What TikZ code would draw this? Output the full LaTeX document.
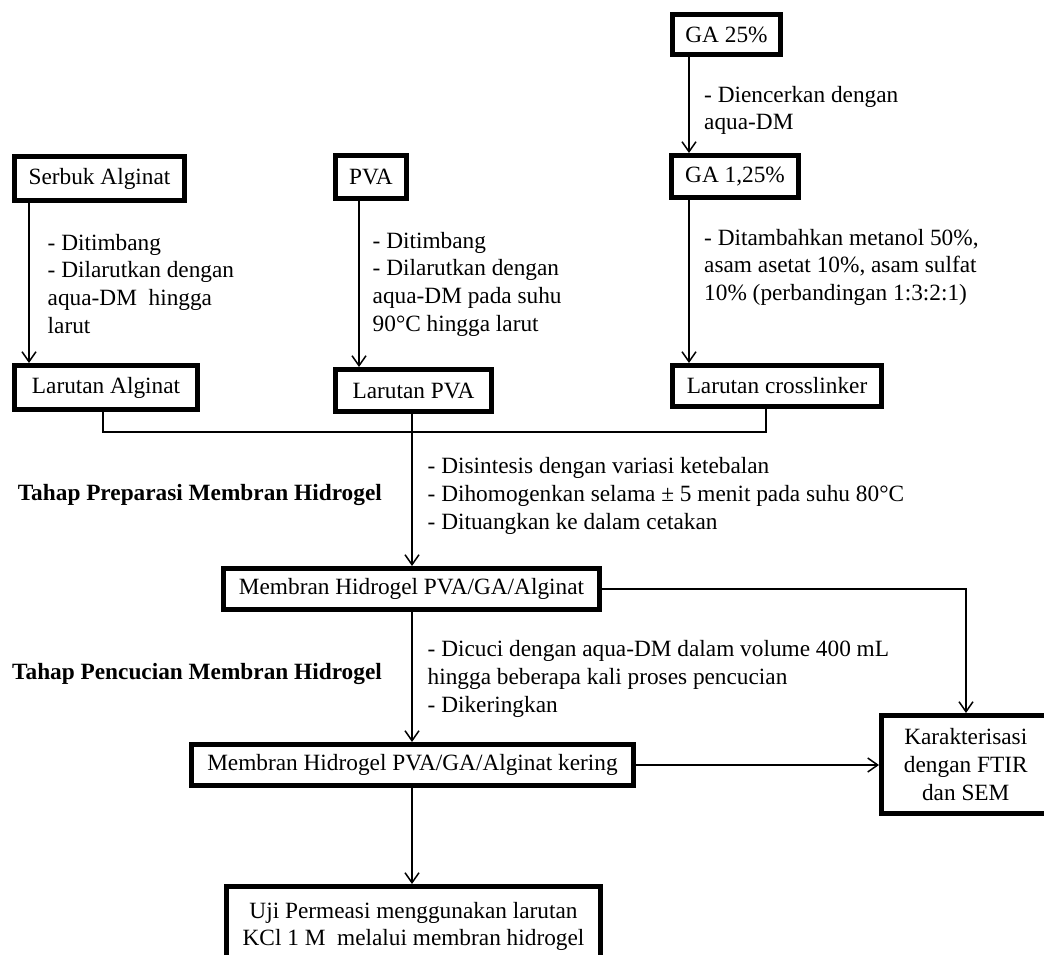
\documentclass[tikz,border=0pt]{standalone}
\usepackage{fontspec}
\setmainfont{Liberation Serif}
\usetikzlibrary{arrows.meta}
\begin{document}
\begin{tikzpicture}[x=1pt,y=-1pt,
  txt/.style={font=\fontsize{23.3}{27.6}\selectfont},
  box/.style={txt, draw, line width=5pt, inner sep=0pt, align=center},
  note/.style={txt, anchor=north west, inner sep=0pt, align=left},
  stage/.style={font=\fontsize{23.3}{27.6}\selectfont\bfseries, anchor=base east, inner sep=0pt},
  conn/.style={line width=1.5pt},
  arr/.style={conn, -{Straight Barb[length=10pt,width=14pt]}}]
\path[use as bounding box] (0,0) rectangle (1044,955);
\clip (0,0) rectangle (1044,955);

% boxes
\node[box, minimum width=108, minimum height=40] (ga25)  at (726.5,34.5) {GA 25\%};
\node[box, minimum width=127, minimum height=42] (ga125) at (735,176.5) {GA 1,25\%};
\node[box, minimum width=209, minimum height=41] (cross) at (777,386) {Larutan crosslinker};
\node[box, minimum width=170, minimum height=44] (serbuk) at (99.5,178.5) {Serbuk Alginat};
\node[box, minimum width=183, minimum height=44] (laralg) at (106,387.5) {Larutan Alginat};
\node[box, minimum width=71, minimum height=43] (pva) at (371,177) {PVA};
\node[box, minimum width=156, minimum height=42] (larpva) at (413.5,390.5) {Larutan PVA};
\node[box, minimum width=376, minimum height=41] (mhpga) at (411.5,589) {Membran Hidrogel PVA/GA/Alginat};
\node[box, minimum width=442, minimum height=41] (kering) at (412.5,765) {Membran Hidrogel PVA/GA/Alginat kering};
\node[box, minimum width=168.5, minimum height=98] (karak) at (965.75,764.5) {Karakterisasi\\dengan FTIR\\dan SEM};
\node[box, minimum width=374, minimum height=80] (uji) at (413.5,926.5) {Uji Permeasi menggunakan larutan\\KCl 1 M\ \ melalui\ membran hidrogel};

% notes
\node[note] (n1) at (47.5,230.7) {\strut- Ditimbang\\- Dilarutkan dengan\\aqua-DM\ \ hingga\\larut};
\node[note] (n2) at (372.5,228.7) {\strut- Ditimbang\\- Dilarutkan dengan\\aqua-DM pada suhu\\90°C hingga larut};
\node[note] (n3) at (704,82.7) {\strut- Diencerkan dengan\\aqua-DM};
\node[note] (n4) at (704,225.7) {\strut- Ditambahkan metanol 50\%,\\asam asetat 10\%, asam sulfat\\10\% (perbandingan 1:3:2:1)};
\node[note, font=\fontsize{23.3}{28}\selectfont] (n5) at (427.5,453.7) {\strut- Disintesis dengan variasi ketebalan\\- Dihomogenkan selama ± 5 menit pada suhu 80°C\\- Dituangkan ke dalam cetakan};
\node[note, font=\fontsize{23.3}{28}\selectfont] (n6) at (427.5,636.7) {\strut- Dicuci dengan aqua-DM dalam volume 400 mL\\hingga beberapa kali proses pencucian\\- Dikeringkan};
\node[stage] (s1) at (382,500) {Tahap Preparasi Membran Hidrogel};
\node[stage] (s2) at (382,679) {Tahap Pencucian Membran Hidrogel};

% helper coordinates
\coordinate (sx) at (29,0);
\coordinate (px) at (359,0);
\coordinate (gx) at (689,0);
\coordinate (mx) at (412,0);
\coordinate (kx) at (966,0);
\coordinate (jL) at (103,432);
\coordinate (jR) at (766,432);

% connectors
\draw[arr] (serbuk.south -| sx) -- (laralg.north -| sx);
\draw[arr] (pva.south -| px) -- (larpva.north -| px);
\draw[arr] (ga25.south -| gx) -- (ga125.north -| gx);
\draw[arr] (ga125.south -| gx) -- (cross.north -| gx);
\draw[conn] (laralg.south -| jL) -- (jL) -- (jR) -- (cross.south -| jR);
\draw[arr] (larpva.south -| mx) -- (mhpga.north -| mx);
\draw[arr] (mhpga.east) -| (karak.north -| kx);
\draw[arr] (mhpga.south -| mx) -- (kering.north -| mx);
\draw[arr] (kering.east) -- (karak.west |- kering.east);
\draw[arr] (kering.south -| mx) -- (uji.north -| mx);
\end{tikzpicture}
\end{document}
